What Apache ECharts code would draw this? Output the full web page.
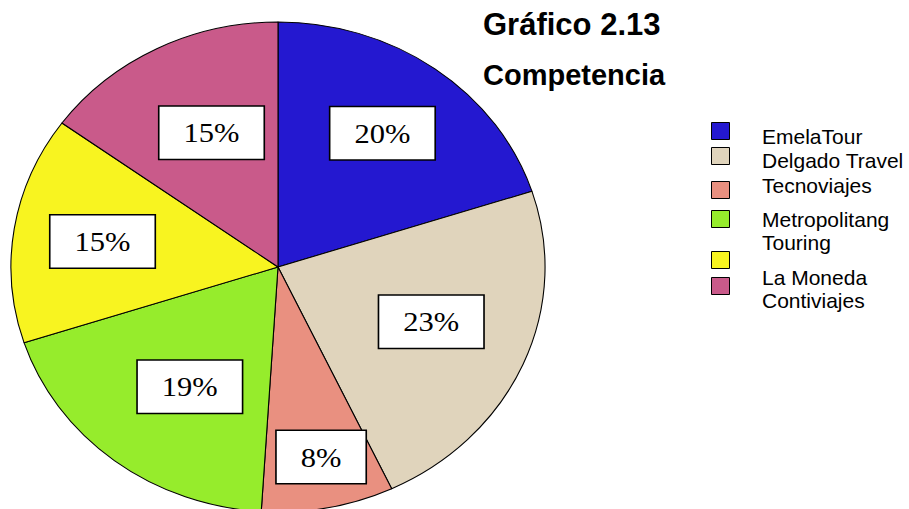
<!DOCTYPE html>
<html>
<head>
<meta charset="utf-8">
<script src="https://cdn.jsdelivr.net/npm/echarts@6/dist/echarts.min.js"></script>
<style>
html, body { margin: 0; padding: 0; overflow: hidden; background: #fff; }
/* the original pie is slightly wider than tall, so the pie layer is stretched a bit */
#pie { position: absolute; left: 0; top: 0; width: 909px; height: 509px; transform: scaleX(1.09); transform-origin: 278px 267px; }
#side { position: absolute; left: 0; top: 0; width: 909px; height: 509px; }
</style>
</head>
<body>
<div id="pie"></div>
<div id="side"></div>
<script>
var names = ['EmelaTour', 'Delgado Travel', 'Tecnoviajes', 'Metropolitang\nTouring', 'La Moneda', 'Contiviajes'];
var shares = [20, 23, 8, 19, 15, 15];
var colors = ['#2418D0', '#E0D4BC', '#E99080', '#96EC2C', '#F8F420', '#C95A8A'];

// small nudges so the percent boxes sit where the original put them
var labelNudge = [[0, -2], [-9, -10], [9, 30], [19, -9], [0, 0], [13, 11]];

var pieData = [];
var labelData = [];
for (var i = 0; i < names.length; i++) {
  pieData.push({ name: names[i], value: shares[i], itemStyle: { color: colors[i] } });
  labelData.push({ name: names[i], value: shares[i], label: { offset: labelNudge[i] } });
}

// pie with the percent boxes
var pieChart = echarts.init(document.getElementById('pie'), null, { renderer: 'svg' });
pieChart.setOption({
  animation: false,
  series: [
    {
      type: 'pie',
      center: [278, 267],
      radius: [0, 245],
      startAngle: 90,
      silent: true,
      itemStyle: { borderColor: '#000', borderWidth: 1 },
      label: { show: false },
      labelLine: { show: false },
      data: pieData
    },
    {
      // transparent ring only used to place the labels further out
      type: 'pie',
      center: [278, 267],
      radius: [75, 245],
      startAngle: 90,
      silent: true,
      itemStyle: { color: 'rgba(0,0,0,0)', borderWidth: 0 },
      label: {
        show: true,
        position: 'inside',
        formatter: '{c}%',
        color: '#000',
        fontFamily: 'Liberation Serif',
        fontSize: 28,
        backgroundColor: '#fff',
        borderColor: '#000',
        borderWidth: 1.5,
        padding: [12, 22]
      },
      labelLine: { show: false },
      data: labelData
    }
  ]
});

// title and legend (not stretched)
var iconTops = [122, 147, 181, 210, 251, 277];
var textTops = [124.5, 148.5, 174, 208, 265.5, 288.5];
var legends = [];
for (var j = 0; j < names.length; j++) {
  // colour box
  legends.push({
    data: [names[j]],
    left: 711,
    top: iconTops[j],
    padding: 0,
    icon: 'rect',
    itemWidth: 18,
    itemHeight: 17,
    selectedMode: false,
    formatter: function () { return ''; },
    itemStyle: { borderColor: '#000', borderWidth: 1 },
    textStyle: { fontSize: 1, lineHeight: 1 }
  });
  // name text
  legends.push({
    data: [names[j]],
    left: 757,
    top: textTops[j],
    padding: 0,
    icon: 'none',
    itemWidth: 0,
    itemHeight: 0,
    selectedMode: false,
    textStyle: { fontFamily: 'Liberation Sans', fontSize: 21, lineHeight: 23, color: '#000' }
  });
}

var sideChart = echarts.init(document.getElementById('side'), null, { renderer: 'svg' });
sideChart.setOption({
  animation: false,
  title: {
    text: 'Gráfico 2.13',
    subtext: 'Competencia',
    left: 483,
    top: 9,
    padding: 0,
    itemGap: 20,
    textStyle: { fontFamily: 'Liberation Sans', fontWeight: 'bold', fontSize: 31, color: '#000' },
    subtextStyle: { fontFamily: 'Liberation Sans', fontWeight: 'bold', fontSize: 29, color: '#000' }
  },
  legend: legends,
  series: [
    {
      // invisible pie, only feeds the legend
      type: 'pie',
      center: [-50, -50],
      radius: [0, 0],
      silent: true,
      label: { show: false },
      labelLine: { show: false },
      data: pieData
    }
  ]
});
</script>
</body>
</html>
